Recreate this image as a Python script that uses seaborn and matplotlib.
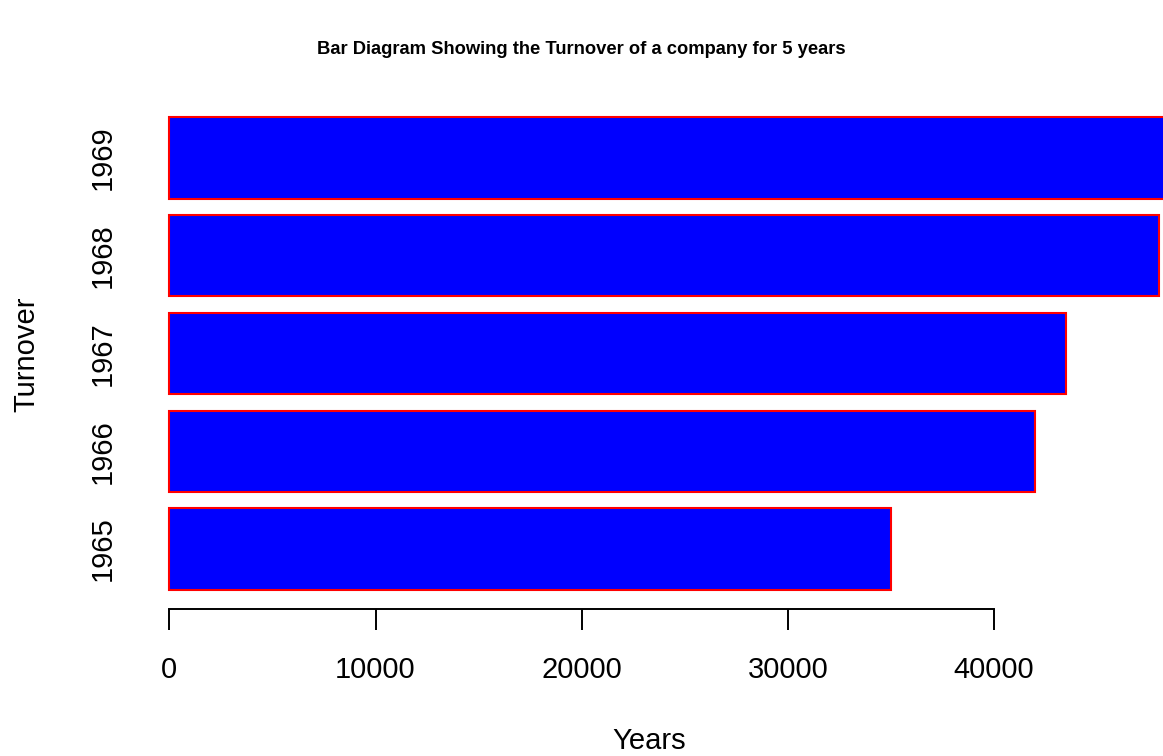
import matplotlib
matplotlib.use("Agg")
import matplotlib.pyplot as plt
import pandas as pd
import seaborn as sns

years = ["1965", "1966", "1967", "1968", "1969"]
turnover = [35000, 42000, 43500, 48000, 52000]
x_ticks = [0, 10000, 20000, 30000, 40000]

df = pd.DataFrame({"year": years, "turnover": turnover})

sns.set_style("white")
plt.rcParams["font.family"] = ["Liberation Sans", "DejaVu Sans"]
plt.rcParams["text.color"] = "black"
plt.rcParams["xtick.color"] = "black"
plt.rcParams["ytick.color"] = "black"

W, H = 1163, 756
fig = plt.figure(figsize=(W / 100, H / 100), dpi=100)

# pixel layout of the plot region
px_per_unit = 20.62 / 1000   # px per turnover unit
x0 = 169.3
ax_left, ax_right = x0, W
ax_top, ax_bottom = 100, 609
ax = fig.add_axes([ax_left / W, 1 - ax_bottom / H,
                   (ax_right - ax_left) / W, (ax_bottom - ax_top) / H])

order = years[::-1]
sns.barplot(data=df, x="turnover", y="year", order=order, orient="h",
            color="#0000FF", saturation=1, width=1 / 1.2,
            edgecolor="#FF0000", linewidth=1.5, ax=ax)
for p in ax.patches:
    p.set_clip_on(False)

ax.set_xlim(0, (ax_right - ax_left) / px_per_unit)
# 1969 centre at 158px, 1965 centre at 549px
step = (549 - 158) / 4
ax.set_ylim(4 + (ax_bottom - 549) / step, -(158 - ax_top) / step)

for s in ["top", "right", "left"]:
    ax.spines[s].set_visible(False)
ax.spines["bottom"].set_bounds(0, 40000)
ax.spines["bottom"].set_color("black")
ax.spines["bottom"].set_linewidth(1.4)

ax.set_xticks(x_ticks)
ax.set_xticklabels([str(t) for t in x_ticks], fontsize=21)
ax.tick_params(axis="x", bottom=True, length=15, width=1.4, color="black",
               pad=18.5)
ax.tick_params(axis="y", left=False, length=0, pad=38)
for lbl in ax.get_yticklabels():
    lbl.set_rotation(90)
    lbl.set_va("center")
    lbl.set_fontsize(21)

ax.set_xlabel("")
ax.set_ylabel("")
fig.text(649 / W, 1 - 741 / H, "Years", ha="center", va="center", fontsize=21)
fig.text(26 / W, 1 - 354 / H, "Turnover", ha="center", va="center",
         rotation=90, fontsize=21)
fig.text(581 / W, 1 - 49 / H,
         "Bar Diagram Showing the Turnover of a company for 5 years",
         ha="center", va="center", fontsize=13.2, fontweight="bold")

fig.savefig("out.png", dpi=100)
